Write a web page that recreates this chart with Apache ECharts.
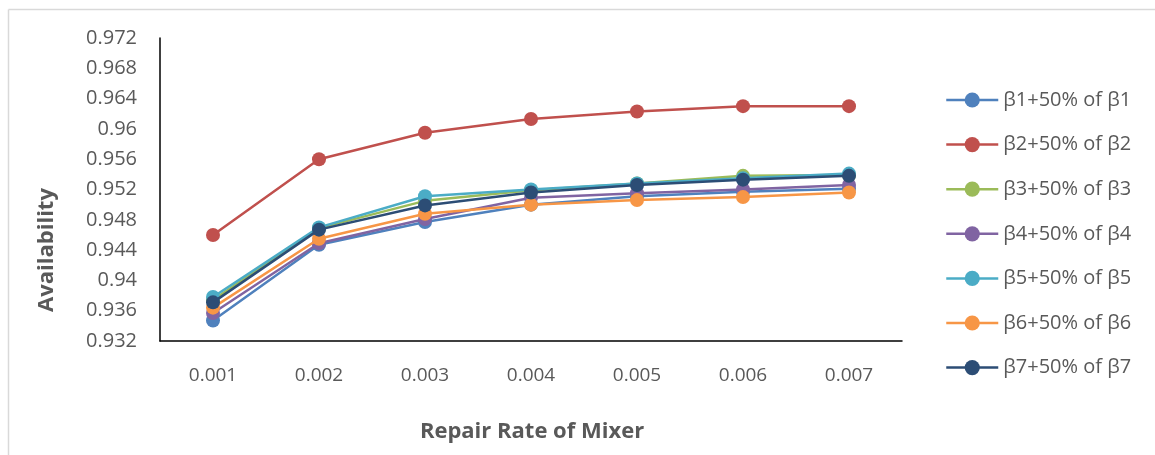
<!DOCTYPE html>
<html>
<head>
<meta charset="utf-8">
<script src="https://cdn.jsdelivr.net/npm/echarts@6/dist/echarts.min.js"></script>
<style>
html,body{margin:0;padding:0;background:#fff;}
#c{width:1155px;height:455px;}
</style>
</head>
<body>
<div id="c"></div>
<script>
const categories = ['0.001','0.002','0.003','0.004','0.005','0.006','0.007'];
const seriesNames = ['β1+50% of β1','β2+50% of β2','β3+50% of β3','β4+50% of β4','β5+50% of β5','β6+50% of β6','β7+50% of β7'];
const beta1 = [0.9347, 0.9447, 0.9477, 0.9500, 0.9511, 0.9517, 0.9521];
const beta2 = [0.9460, 0.9560, 0.9595, 0.9613, 0.9623, 0.9630, 0.9630];
const beta3 = [0.9374, 0.9469, 0.9505, 0.9519, 0.9528, 0.9538, 0.9539];
const beta4 = [0.9357, 0.9449, 0.9481, 0.9509, 0.9515, 0.9520, 0.9526];
const beta5 = [0.9378, 0.9470, 0.9511, 0.9520, 0.9528, 0.9535, 0.9541];
const beta6 = [0.9364, 0.9455, 0.9488, 0.9500, 0.9506, 0.9510, 0.9516];
const beta7 = [0.9371, 0.9467, 0.9499, 0.9516, 0.9526, 0.9533, 0.9538];
const allData = [beta1, beta2, beta3, beta4, beta5, beta6, beta7];
const colors = ['#4F81BD','#C0504D','#9BBB59','#8064A2','#4BACC6','#F79646','#2C4D75'];
const yMin = 0.932, yMax = 0.972, yStep = 0.004;

const FONT = 'Open Sans';
const chart = echarts.init(document.getElementById('c'), null, {renderer:'canvas'});
chart.setOption({
  animation: false,
  backgroundColor: '#fff',
  color: colors,
  grid: {left:160, right:253, top:38, bottom:114, containLabel:false},
  legend: {
    orient: 'vertical',
    left: 945, top: 90, padding: 0,
    itemWidth: 52, itemHeight: 19, itemGap: 24.6,
    lineStyle: {width: 2.5},
    textStyle: {fontFamily: FONT, fontSize: 20, color:'#595959'},
    data: seriesNames
  },
  xAxis: {
    type: 'category',
    data: categories,
    boundaryGap: true,
    axisLine: {lineStyle:{color:'#000', width:1.5}},
    axisTick: {show:false},
    axisLabel: {fontFamily: FONT, fontSize: 19, color:'#595959', margin: 25}
  },
  yAxis: {
    type: 'value',
    min: yMin, max: yMax, interval: yStep,
    axisLine: {show:true, lineStyle:{color:'#000', width:1.5}},
    axisTick: {show:false},
    splitLine: {show:false},
    axisLabel: {fontFamily: FONT, fontSize: 20, color:'#595959', margin: 23,
      formatter: v => String(parseFloat(v.toFixed(3)))}
  },
  graphic: [
    {type:'line', shape:{x1:8.5, y1:9.5, x2:8.5, y2:455}, style:{stroke:'#d9d9d9', lineWidth:1.5}},
    {type:'line', shape:{x1:8.5, y1:9.5, x2:1155, y2:9.5}, style:{stroke:'#d9d9d9', lineWidth:1.5}},
    {type:'text', x:47, y:250, rotation:Math.PI/2, style:{text:'Availability', fontFamily:FONT, fontSize:22, fontWeight:'bold', fill:'#595959', align:'center', verticalAlign:'middle'}},
    {type:'text', x:532, y:432, style:{text:'Repair Rate of Mixer', fontFamily:FONT, fontSize:22, fontWeight:'bold', fill:'#595959', align:'center', verticalAlign:'middle'}}
  ],
  series: seriesNames.map((n,i) => ({
    name: n, type: 'line', data: allData[i],
    symbol: 'circle', symbolSize: 14,
    lineStyle: {width: 2.5, color: colors[i]},
    itemStyle: {color: colors[i]},
    z: 2 + i
  }))
});
</script>
</body>
</html>
